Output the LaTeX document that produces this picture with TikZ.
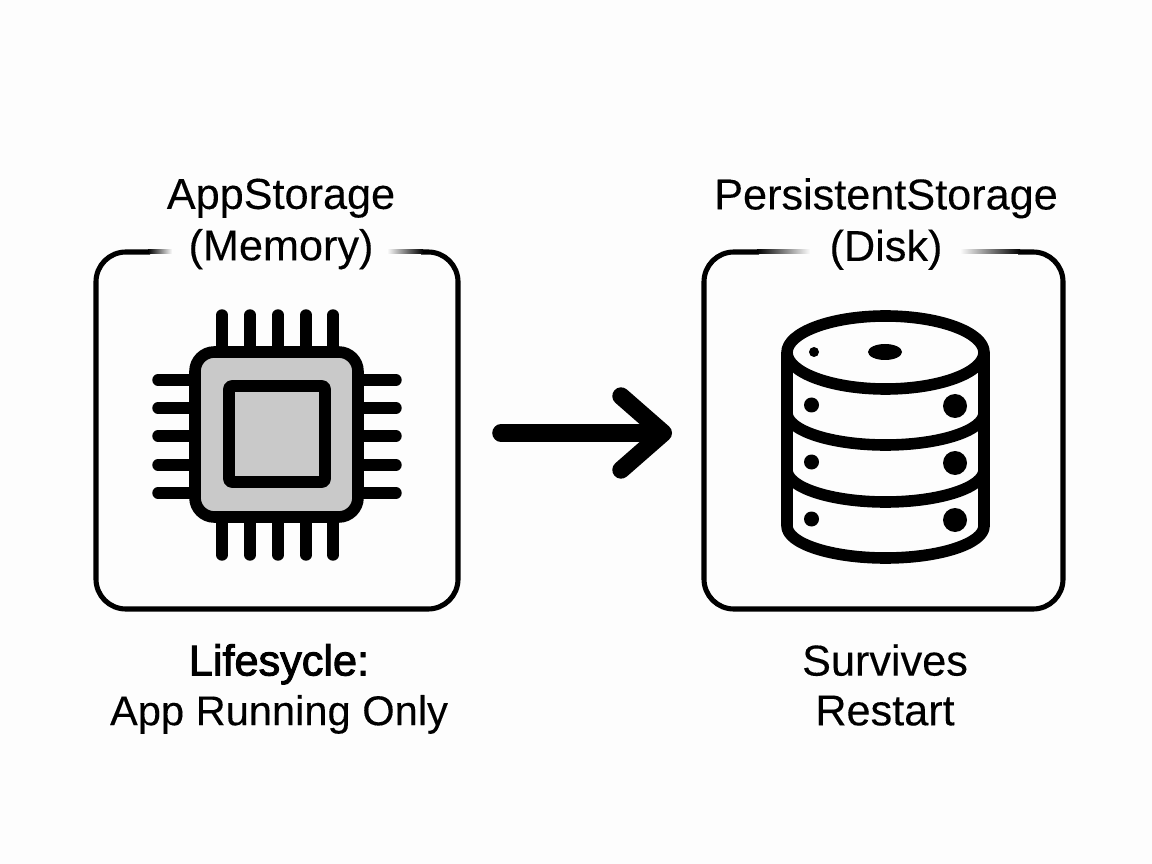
\documentclass[tikz,border=0pt]{standalone}
\usepackage{fontspec}
\setmainfont[FakeBold=0.2]{Liberation Sans}
\newfontface\heavierface[FakeBold=2.2]{Liberation Sans}
\usetikzlibrary{arrows.meta}
\definecolor{paper}{HTML}{FDFDFD}
\definecolor{chipgray}{HTML}{C9C9C9}
\tikzset{
	framedraw/.style={line width=2.9pt,rounded corners=17pt},
	pindraw/.style={line width=6.5pt,line cap=round},
	iconedge/.style={line width=6.6pt,line join=round},
	textlabel/.style={align=center,inner sep=0pt,font=\fontsize{24.6}{28.3}\selectfont},
	titlelabel/.style={align=center,inner sep=0pt,font=\fontsize{24.6}{29.3}\selectfont},
	arrowdraw/.style={line width=10pt,line cap=round,-{Straight Barb[length=24pt,width=42pt,line width=10pt,round]}}
}

\begin{document}
\begin{tikzpicture}[x=0.02cm,y=-0.02cm]
	\useasboundingbox [fill=paper] (0,0) rectangle (1152,864);

	%Titles at the top
	\node [titlelabel] (memorytitle) at (281,224) {AppStorage\\(Memory)};
	\node [titlelabel] (disktitle) at (886,224) {PersistentStorage\\(Disk)};

	%Frame at the left
	\draw [framedraw] (150,252) -- (96,252) -- (96,609) -- (458,609) -- (458,252) -- (421,252);
	\shade [left color=black,right color=paper] (148,250) rectangle (172,254);
	\shade [left color=paper,right color=black] (387,250) rectangle (423,254);

	%Frame at the right
	\draw [framedraw] (759,252) -- (704,252) -- (704,609) -- (1063,609) -- (1063,252) -- (1018,252);
	\shade [left color=black,right color=paper] (757,250) rectangle (810,254);
	\shade [left color=paper,right color=black] (960,250) rectangle (1020,254);

	%Chip pins
	\foreach \px in {222,250,278,306,333} {
		\draw [pindraw] (\px,315) -- (\px,350);
		\draw [pindraw] (\px,520) -- (\px,555);
	}
	\foreach \py in {380,408,436,465,493} {
		\draw [pindraw] (158,\py) -- (192,\py);
		\draw [pindraw] (361,\py) -- (396,\py);
	}
	%Chip body
	\draw [iconedge,fill=chipgray,rounded corners=11pt] (195,352) rectangle (358,517);
	\draw [iconedge,rounded corners=1.5pt] (229,386) rectangle (325,482);

	%Disk bands
	\foreach \dy in {413,470} {
		\draw [iconedge] (787,\dy) .. controls +(0,17.6) and +(-54,0) .. +(98.5,32) .. controls +(54,0) and +(0,17.6) .. (984,\dy);
	}
	%Disk sides with the bottom band
	\draw [iconedge] (787,352) -- (787,526) .. controls +(0,17.6) and +(-54,0) .. +(98.5,32) .. controls +(54,0) and +(0,17.6) .. (984,526) -- (984,352);
	%Disk lid
	\draw [iconedge] (787,352.5) .. controls +(0,-20) and +(-54,0) .. (885.5,316) .. controls +(54,0) and +(0,-20) .. (984,352.5) .. controls +(0,20) and +(54,0) .. (885.5,389) .. controls +(-54,0) and +(0,20) .. cycle;
	\fill (814,352) circle [radius=5];
	\fill (885,352) ellipse [x radius=17,y radius=8];
	%Disk dots
	\foreach \dy in {405,462,519} {
		\fill (811.5,\dy) circle [radius=7.5];
		\fill (955,\dy+1) circle [radius=12];
	}

	%Arrow between the frames
	\coordinate (arrowstart) at (501,433);
	\coordinate (arrowend) at (672,433);
	\draw [arrowdraw] (arrowstart) -- (arrowend);

	%Captions at the bottom
	\node [textlabel] (memorynote) at (279,689) {{\heavierface Lifesycle:}\\\fontsize{23.7}{28.3}\selectfont App Running Only};
	\node [textlabel] (disknote) at (885,685) {Survives\\Restart};
\end{tikzpicture}
\end{document}
